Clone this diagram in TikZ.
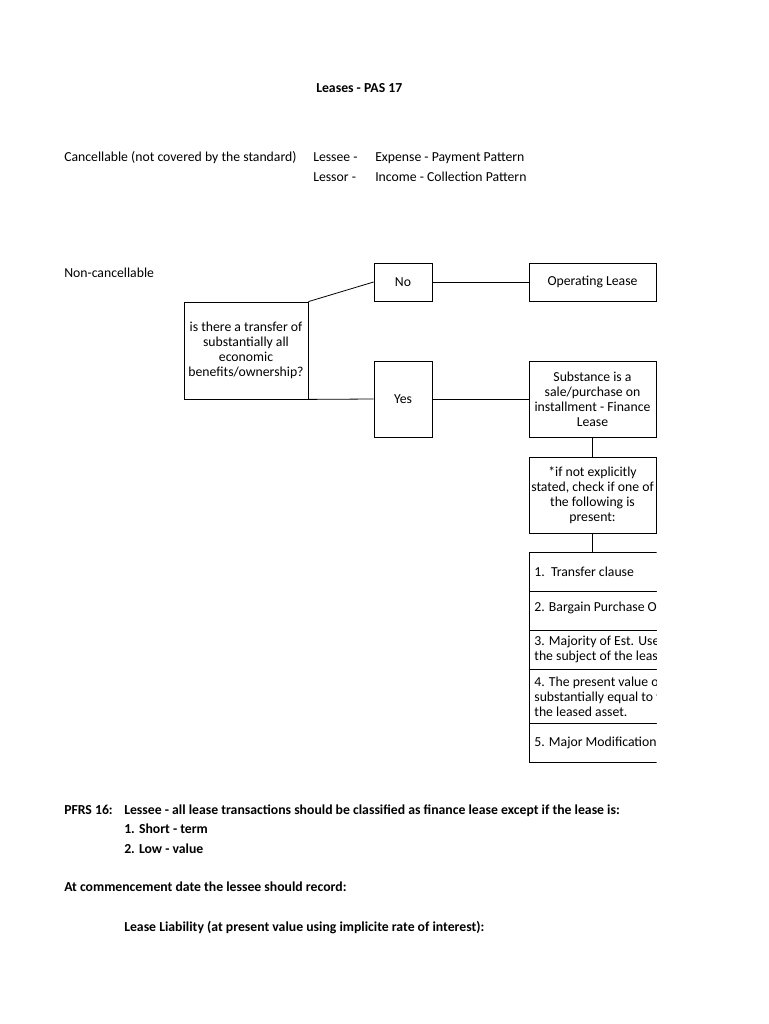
\documentclass[tikz,border=0pt]{standalone}
\usepackage{fontspec}
\setmainfont{Carlito}
\usepackage{tikz}
\usetikzlibrary{positioning}
\newlength{\px}
\setlength{\px}{0.75pt}
\tikzstyle{box} = [rectangle, draw=black, line width=0.6pt, align=center, inner sep=1pt, font=\fontsize{10.3}{11.25}\selectfont]
\tikzstyle{row} = [rectangle, draw=black, line width=0.6pt, anchor=north west, minimum width=200\px, text width=190\px, align=flush left, inner xsep=1\px, inner ysep=0pt, font=\fontsize{10.3}{11.25}\selectfont]
\tikzstyle{txt} = [anchor=base west, inner sep=0pt, font=\fontsize{10.3}{12}\selectfont]
\tikzstyle{link} = [line width=0.6pt]

\begin{document}
\begin{tikzpicture}[x=\px, y=-\px]
    \useasboundingbox (0,0) rectangle (768,1024);

    % Header
    \node[txt, font=\fontsize{10.3}{12}\selectfont\bfseries] (title) at (316, 93) {Leases - PAS 17};
    \node[txt] (cancel) at (64, 161) {Cancellable (not covered by the standard)};
    \node[txt] (lessee) at (313, 161) {Lessee -};
    \node[txt] (lessor) at (313, 181) {Lessor -};
    \node[txt] (expense) at (375, 161) {Expense - Payment Pattern};
    \node[txt] (income) at (375, 181) {Income - Collection Pattern};
    \node[txt] (noncancel) at (64, 277) {Non-cancellable};

    % Decision boxes
    \node[box, minimum width=124\px, minimum height=97\px] (q) at (246, 350.5) {is there a transfer of\\substantially all\\economic\\benefits/ownership?};
    \node[box, minimum width=58\px, minimum height=38\px] (no) at (403, 282) {No};
    \node[box, minimum width=127\px, minimum height=38\px] (op) at (592.5, 282) {Operating Lease};
    \node[box, minimum width=58\px, minimum height=76\px] (yes) at (403, 399) {Yes};
    \node[box, minimum width=127\px, minimum height=76\px] (sub) at (592.5, 399) {Substance is a\\sale/purchase on\\installment - Finance\\Lease};
    \node[box, minimum width=127\px, minimum height=76\px] (ifnot) at (592.5, 495) {*if not explicitly\\stated, check if one of\\the following is\\present:};

    % Connectors
    \draw[link] (q.north east) -- (no.west);
    \draw[link] (no.east) -- (op.west);
    \draw[link] (q.south east) -- (yes.west);
    \draw[link] (yes.east) -- (sub.west);
    \draw[link] (sub.south) -- (ifnot.north);

    % Indicators (cut at the page edge)
    \begin{scope}
        \clip (520, 540) rectangle (656.5, 770);
        \node[row, minimum height=39\px] (r1) at (529, 552) {1.\ \ Transfer clause};
        \node[row, minimum height=39\px] (r2) at (529, 591) {2. Bargain Purchase Option\vspace{4pt}};
        \node[row, minimum height=39\px] (r3) at (529, 630) {3. Majority of Est. Useful Life\\the subject of the lease};
        \node[row, minimum height=54\px] (r4) at (529, 669) {4. The present value of MLP is\\substantially equal to the FV of\\the leased asset.};
        \node[row, minimum height=39\px] (r5) at (529, 723) {5. Major Modifications};
    \end{scope}
    \draw[link] (ifnot.south) -- (ifnot.south |- r1.north);

    % PFRS 16
    \node[txt, font=\fontsize{10.3}{12}\selectfont\bfseries] (pfrs) at (64, 814) {PFRS 16:};
    \node[txt, font=\fontsize{10.3}{12}\selectfont\bfseries] (rule) at (124, 814) {Lessee - all lease transactions should be classified as finance lease except if the lease is:};
    \node[txt, font=\fontsize{10.3}{12}\selectfont\bfseries] (ex1) at (124, 833.5) {1. Short - term};
    \node[txt, font=\fontsize{10.3}{12}\selectfont\bfseries] (ex2) at (124, 853) {2. Low - value};
    \node[txt, font=\fontsize{10.3}{12}\selectfont\bfseries] (commence) at (64, 891) {At commencement date the lessee should record:};
    \node[txt, font=\fontsize{10.3}{12}\selectfont\bfseries] (liab) at (124, 931) {Lease Liability (at present value using implicite rate of interest):};
\end{tikzpicture}
\end{document}
